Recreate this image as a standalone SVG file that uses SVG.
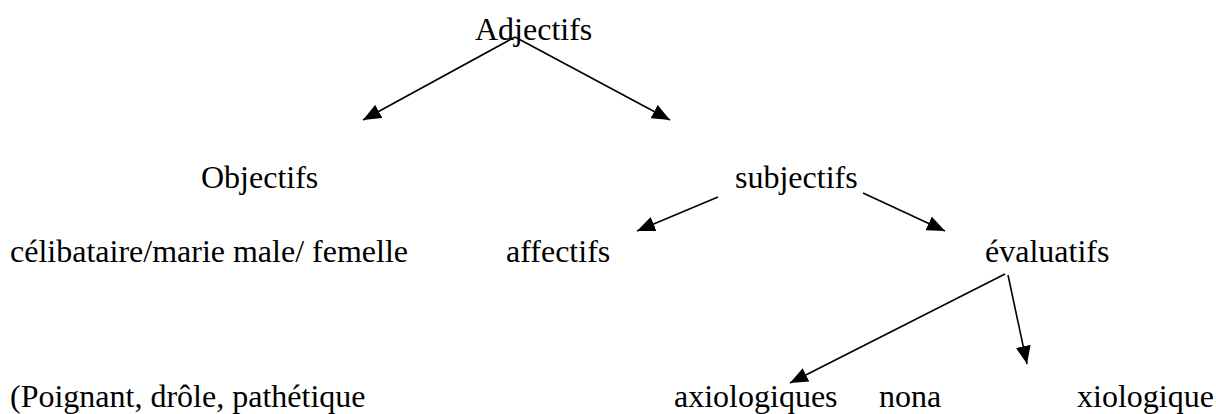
<svg xmlns="http://www.w3.org/2000/svg" width="1216" height="414" viewBox="0 0 1216 414">
<style>
.t{font-size:32px;fill:#000}
.c line{stroke:#000;stroke-width:1.6;marker-end:url(#ah)}
</style>
<defs>
<marker id="ah" markerUnits="userSpaceOnUse" viewBox="0 0 18 15" markerWidth="18" markerHeight="15" refX="18" refY="7.5" orient="auto">
<path d="M0,0 L18,7.5 L0,15 Z" fill="#000"/>
</marker>
</defs>
<rect width="1216" height="414" fill="#fff"/>
<g class="t" font-family="'Liberation Serif', 'Times New Roman', 'DejaVu Serif', serif">
<g id="adjectifs"><text x="475" y="40">Adjectifs</text></g>
<g id="objectifs"><text x="201" y="188">Objectifs</text></g>
<g id="subjectifs"><text x="735" y="188">subjectifs</text></g>
<g id="celibataire"><text x="10" y="262">célibataire/marie male/ femelle</text></g>
<g id="affectifs"><text x="506" y="262">affectifs</text></g>
<g id="evaluatifs"><text x="985" y="262">évaluatifs</text></g>
<g id="poignant"><text x="10" y="407">(Poignant, drôle, pathétique</text></g>
<g id="axiologiques"><text x="674" y="407">axiologiques</text></g>
<g id="nona"><text x="879" y="407">nona</text></g>
<g id="xiologique"><text x="1077" y="407">xiologique</text></g>
</g>
<g id="connectors" class="c">
<line x1="515" y1="37" x2="363" y2="120"/>
<line x1="515" y1="37" x2="670" y2="120"/>
<line x1="718" y1="197" x2="637" y2="231"/>
<line x1="863" y1="193" x2="945" y2="231"/>
<line x1="1005" y1="274" x2="790" y2="383"/>
<line x1="1008" y1="275" x2="1027" y2="364"/>
</g>
</svg>
